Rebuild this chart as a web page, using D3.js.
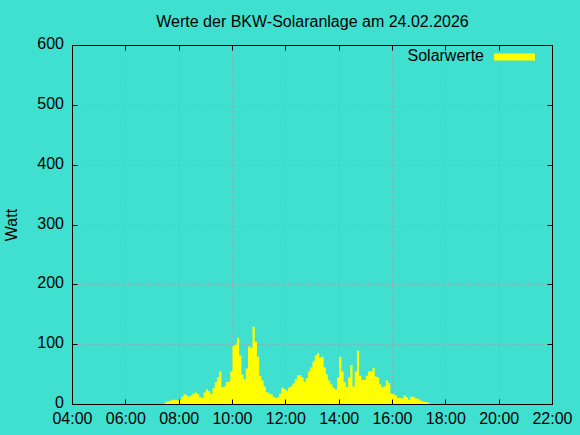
<!DOCTYPE html>
<html>
<head>
<meta charset="utf-8">
<script src="https://cdn.jsdelivr.net/npm/d3@7/dist/d3.min.js"></script>
<style>
  html, body { margin: 0; padding: 0; background: #40E0D0; }
  svg { display: block; }
  text { font-family: "Liberation Sans", Arial, sans-serif; fill: #000; }
</style>
</head>
<body>
<script>
// ---- data ----
const titleText = "Werte der BKW-Solaranlage am 24.02.2026";
const seriesName = "Solarwerte";
const yAxisLabel = "Watt";
const xTickLabels = ["04:00","06:00","08:00","10:00","12:00","14:00","16:00","18:00","20:00","22:00"];
const yTicks = [0,100,200,300,400,500,600];
// sample start times (5-minute steps)
const times = [
"07:25","07:30","07:35","07:40","07:45","07:50","07:55",
"08:00","08:05","08:10","08:15","08:20","08:25","08:30","08:35","08:40","08:45","08:50","08:55",
"09:00","09:05","09:10","09:15","09:20","09:25","09:30","09:35","09:40","09:45","09:50","09:55",
"10:00","10:05","10:10","10:15","10:20","10:25","10:30","10:35","10:40","10:45","10:50","10:55",
"11:00","11:05","11:10","11:15","11:20","11:25","11:30","11:35","11:40","11:45","11:50","11:55",
"12:00","12:05","12:10","12:15","12:20","12:25","12:30","12:35","12:40","12:45","12:50","12:55",
"13:00","13:05","13:10","13:15","13:20","13:25","13:30","13:35","13:40","13:45","13:50","13:55",
"14:00","14:05","14:10","14:15","14:20","14:25","14:30","14:35","14:40","14:45","14:50","14:55",
"15:00","15:05","15:10","15:15","15:20","15:25","15:30","15:35","15:40","15:45","15:50","15:55",
"16:00","16:05","16:10","16:15","16:20","16:25","16:30","16:35","16:40","16:45","16:50","16:55",
"17:00","17:05","17:10","17:15","17:20","17:25","17:30"];
const watts = [
2,5,6,7,8,8,7,
8,13,17,15,13,15,18,20,17,12,11,20,
25,22,17,27,37,46,55,29,30,37,38,55,
98,100,111,82,50,42,60,97,95,130,105,80,
48,40,30,21,19,17,13,11,12,18,28,26,
23,28,30,35,42,49,49,45,38,44,55,62,
72,82,86,78,80,62,50,40,34,28,25,45,
80,55,37,29,45,66,30,55,90,48,41,41,
48,55,55,61,47,45,34,29,30,40,36,18,
17,15,11,11,10,15,12,8,13,13,10,10,
7,5,4,4,2,1,0];

// ---- layout ----
const W = 580, H = 435;
const pLeft = 72.5, pRight = 552.5, pTop = 45.5, pBottom = 404.5;
const toHours = s => { const [h,m] = s.split(":").map(Number); return h + m/60; };

const svg = d3.select("body").append("svg").attr("width", W).attr("height", H);
svg.append("rect").attr("width", W).attr("height", H).attr("fill", "#40E0D0");

const x = d3.scaleLinear().domain([toHours(xTickLabels[0]), toHours(xTickLabels[xTickLabels.length-1])]).range([pLeft, pRight]);
const y = d3.scaleLinear().domain([0, 600]).range([pBottom, pTop]);

const snap = v => Math.round(v - 0.5) + 0.5;

// grid
const grid = svg.append("g").attr("stroke", "#a8a0a0").attr("stroke-width", 1).attr("stroke-dasharray", "2,3");
xTickLabels.slice(1, -1).forEach(t => {
  const xv = snap(x(toHours(t)));
  grid.append("line").attr("x1", xv).attr("x2", xv).attr("y1", pTop).attr("y2", pBottom);
});
yTicks.slice(1, -1).forEach(v => {
  const yv = snap(y(v));
  grid.append("line").attr("x1", pLeft).attr("x2", pRight).attr("y1", yv).attr("y2", yv);
});

// data area
const data = times.map((t, i) => ({ t: toHours(t), v: watts[i] }));
const area = d3.area().curve(d3.curveStepAfter)
  .x(d => x(d.t)).y0(y(0)).y1(d => y(d.v));
svg.append("path").datum(data).attr("d", area).attr("fill", "#FFFF00");

// border
svg.append("rect").attr("x", pLeft).attr("y", pTop).attr("width", pRight-pLeft).attr("height", pBottom-pTop)
  .attr("fill", "none").attr("stroke", "#000").attr("stroke-width", 1);

// ticks (inward, mirrored)
const tl = 5;
const ticks = svg.append("g").attr("stroke", "#000").attr("stroke-width", 1);
xTickLabels.forEach(t => {
  const xv = snap(x(toHours(t)));
  ticks.append("line").attr("x1", xv).attr("x2", xv).attr("y1", pBottom).attr("y2", pBottom - tl);
  ticks.append("line").attr("x1", xv).attr("x2", xv).attr("y1", pTop).attr("y2", pTop + tl);
});
yTicks.forEach(v => {
  const yv = snap(y(v));
  ticks.append("line").attr("x1", pLeft).attr("x2", pLeft + tl).attr("y1", yv).attr("y2", yv);
  ticks.append("line").attr("x1", pRight).attr("x2", pRight - tl).attr("y1", yv).attr("y2", yv);
});

// tick labels
xTickLabels.forEach(t => {
  svg.append("text").attr("x", x(toHours(t))).attr("y", 423.5).attr("text-anchor", "middle")
    .attr("font-size", 16).text(t);
});
yTicks.forEach(v => {
  svg.append("text").attr("x", 64).attr("y", y(v) + 3.5).attr("text-anchor", "end")
    .attr("font-size", 16).text(v);
});

// axis label
svg.append("text").attr("transform", `translate(17,${(pTop+pBottom)/2}) rotate(-90)`)
  .attr("text-anchor", "middle").attr("font-size", 16).text(yAxisLabel);

// title
svg.append("text").attr("x", (pLeft+pRight)/2).attr("y", 26.5).attr("text-anchor", "middle")
  .attr("font-size", 16).text(titleText);

// legend
svg.append("text").attr("x", 484).attr("y", 61).attr("text-anchor", "end")
  .attr("font-size", 16).text(seriesName);
svg.append("rect").attr("x", 494).attr("y", 53.5).attr("width", 41).attr("height", 7).attr("fill", "#FFFF00");
</script>
</body>
</html>
